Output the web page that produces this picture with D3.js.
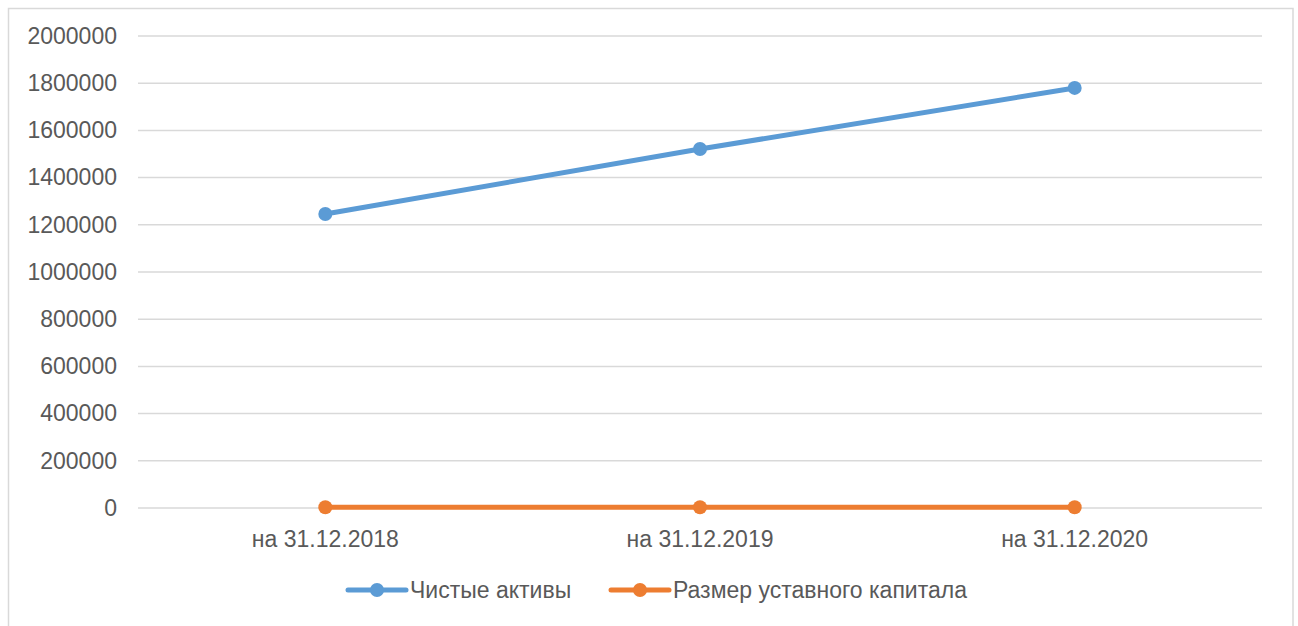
<!DOCTYPE html>
<html>
<head>
<meta charset="utf-8">
<script src="https://cdn.jsdelivr.net/npm/d3@7"></script>
<style>
  body { margin: 0; background: #fff; }
  text { font-family: "Liberation Sans", Arial, sans-serif; fill: #595959; }
</style>
</head>
<body>
<div id="vis"></div>
<script>
(function(){
  var categories = ["на 31.12.2018", "на 31.12.2019", "на 31.12.2020"];
  var seriesNames = ["Чистые активы", "Размер уставного капитала"];
  var netAssets = [1246000, 1521000, 1780000];
  var charterCapital = [3000, 3000, 3000];
  var yTicks = [0, 200000, 400000, 600000, 800000, 1000000, 1200000, 1400000, 1600000, 1800000, 2000000];
  var colors = ["#5B9BD5", "#ED7D31"];

  var width = 1298;
  var height = 626;

  var margin = { top: 36, left: 138, right: 36, bottom: 118 };

  var svg = d3.select("#vis")
    .append("svg")
    .attr("width", width)
    .attr("height", height);

  // chart frame
  svg.append("rect")
    .attr("x", 8.5)
    .attr("y", 8.5)
    .attr("width", 1284.5)
    .attr("height", 640)
    .attr("fill", "none")
    .attr("stroke", "#d9d9d9")
    .attr("stroke-width", 1.5);

  var g = svg.append("g")
    .attr("transform", "translate(" + margin.left + "," + margin.top + ")");

  var w = width - margin.left - margin.right;
  var h = height - margin.top - margin.bottom;

  var x_scale = d3.scaleBand()
    .domain(categories)
    .range([0, w]);

  var y_scale = d3.scaleLinear()
    .domain([0, 2000000])
    .range([h, 0]);

  // gridlines
  g.selectAll(".grid")
    .data(yTicks)
    .enter()
    .append("line")
    .attr("class", "grid")
    .attr("x1", 0)
    .attr("x2", w)
    .attr("y1", function(d){ return y_scale(d); })
    .attr("y2", function(d){ return y_scale(d); })
    .attr("stroke", "#d9d9d9")
    .attr("stroke-width", 1.5);

  var y_axis = d3.axisLeft(y_scale)
    .tickValues(yTicks)
    .tickFormat(d3.format("d"))
    .tickSize(0)
    .tickPadding(21);

  var yg = g.append("g").attr("class", "y axis").call(y_axis);
  yg.select(".domain").remove();
  yg.selectAll("text")
    .attr("font-size", "23px")
    .attr("font-family", "Liberation Sans, Arial, sans-serif")
    .attr("fill", "#595959");

  var x_axis = d3.axisBottom(x_scale)
    .tickSize(0)
    .tickPadding(23);

  var xg = g.append("g")
    .attr("class", "x axis")
    .attr("transform", "translate(0," + h + ")")
    .call(x_axis);
  xg.select(".domain").remove();
  xg.selectAll("text")
    .attr("font-size", "23px")
    .attr("font-family", "Liberation Sans, Arial, sans-serif")
    .attr("fill", "#595959");

  var series = [netAssets, charterCapital];

  var line = d3.line()
    .x(function(d, i){ return x_scale(categories[i]) + x_scale.bandwidth() / 2; })
    .y(function(d){ return y_scale(d); });

  series.forEach(function(values, s) {
    g.append("path")
      .datum(values)
      .attr("d", line)
      .attr("fill", "none")
      .attr("stroke", colors[s])
      .attr("stroke-width", 5)
      .attr("stroke-linecap", "round");

    g.selectAll(".pt" + s)
      .data(values)
      .enter()
      .append("circle")
      .attr("class", "pt" + s)
      .attr("cx", function(d, i){ return x_scale(categories[i]) + x_scale.bandwidth() / 2; })
      .attr("cy", function(d){ return y_scale(d); })
      .attr("r", 7)
      .attr("fill", colors[s]);
  });

  // legend
  var legendX = [348, 611];
  var legend = svg.selectAll(".legend")
    .data(seriesNames)
    .enter()
    .append("g")
    .attr("class", "legend")
    .attr("transform", function(d, i){ return "translate(" + legendX[i] + ",590)"; });

  legend.append("line")
    .attr("x1", 0)
    .attr("x2", 58)
    .attr("stroke", function(d, i){ return colors[i]; })
    .attr("stroke-width", 5)
    .attr("stroke-linecap", "round");

  legend.append("circle")
    .attr("cx", 29)
    .attr("r", 7)
    .attr("fill", function(d, i){ return colors[i]; });

  legend.append("text")
    .attr("x", 62)
    .attr("dy", "0.35em")
    .attr("font-size", "23px")
    .text(function(d){ return d; });
})();
</script>
</body>
</html>
